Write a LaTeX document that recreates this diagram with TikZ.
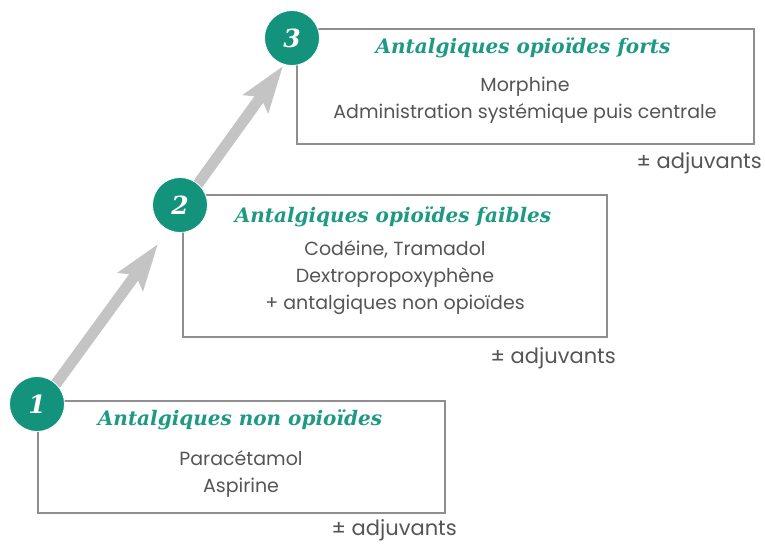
\documentclass[tikz,border=0pt]{standalone}
\usepackage{fontspec}
\setmainfont{DejaVu Serif}
\newfontfamily\bodyfont{Poppins}
\usetikzlibrary{arrows.meta}
\definecolor{tealc}{HTML}{13927C}
\definecolor{titlec}{HTML}{1E9A84}
\definecolor{boxc}{HTML}{8E8E8E}
\definecolor{txtc}{HTML}{555555}
\definecolor{arrc}{HTML}{C4C4C4}
\tikzset{
  stepbox/.style={draw=boxc, line width=1.3pt},
  numc/.style={circle, fill=tealc, draw=white, line width=0.8pt, minimum size=55pt, inner sep=0pt,
    text=white, font=\fontsize{25}{25}\selectfont\bfseries\itshape},
  ttl/.style={text=titlec, font=\fontsize{20}{20}\selectfont\bfseries\itshape, inner sep=0pt},
  body/.style={text=txtc, font=\bodyfont\fontsize{19}{27}\selectfont, align=center, inner sep=0pt},
  adj/.style={text=txtc, font=\bodyfont\fontsize{21}{21}\selectfont, inner sep=0pt, anchor=east},
  bigarrow/.style={draw=arrc, line width=11pt, -{Stealth[length=46pt, width=30pt, inset=8pt]}}
}
\begin{document}
\begin{tikzpicture}[x=1pt,y=-1pt]
\useasboundingbox (0,0) rectangle (765,547);
% boxes
\draw[stepbox] (38,401) rectangle (445,513);
\draw[stepbox] (183,195) rectangle (607,337);
\draw[stepbox] (297,29) rectangle (754,144);
% arrow anchor coordinates
\coordinate (a1s) at (50,392);
\coordinate (a1e) at (158,244);
\coordinate (a2s) at (190,195);
\coordinate (a2e) at (283,66);
\draw[bigarrow] (a1s) -- (a1e);
\draw[bigarrow] (a2s) -- (a2e);
% circles
\node[numc] (c1) at (37,404) {1};
\node[numc] (c2) at (180,205) {2};
\node[numc] (c3) at (292,38) {3};
% titles
\node[ttl] (t1) at (240,420) {Antalgiques non opioïdes};
\node[ttl] (t2) at (393,217) {Antalgiques opioïdes faibles};
\node[ttl] (t3) at (523,48) {Antalgiques opioïdes forts};
% bodies
\node[body] (b1) at (241,474) {Paracétamol\\Aspirine};
\node[body] (b2) at (395,278) {Codéine, Tramadol\\Dextropropoxyphène\\+ antalgiques non opioïdes};
\node[body] (b3) at (525,100) {Morphine\\Administration systémique puis centrale};
% adjuvants
\node[adj] (d1) at (457,530) {± adjuvants};
\node[adj] (d2) at (616,358) {± adjuvants};
\node[adj] (d3) at (762,163) {± adjuvants};
\end{tikzpicture}
\end{document}
